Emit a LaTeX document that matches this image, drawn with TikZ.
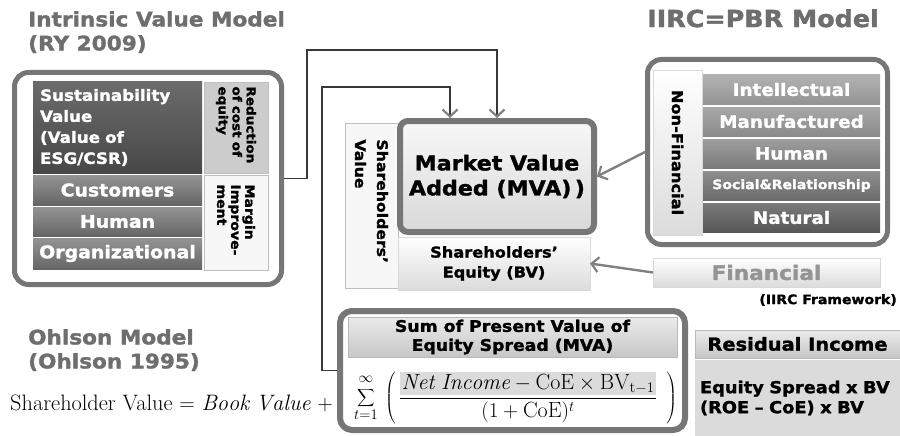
\documentclass[tikz,border=0pt]{standalone}
\usepackage{fontspec}
\usetikzlibrary{positioning,arrows.meta}

\newfontfamily\heavy{DejaVu Sans Bold}[FakeStretch=1.08, FakeBold=1.5]
\newcommand\hvf[2]{\heavy\fontsize{#1}{#2}\selectfont}

\definecolor{frame}{RGB}{118,118,118}
\definecolor{titlegray}{RGB}{110,110,110}

\tikzset{
  barb/.tip={Straight Barb[length=7pt,width=15pt,line width=2.2pt,color=black!50]},
  heading/.style={text=titlegray, font=\hvf{20}{24}, inner sep=0pt, align=left},
  panel/.style={draw=frame, line width=5pt, rounded corners=14pt, fill=white, inner sep=0pt},
  cell/.style={inner sep=0pt, outer sep=0pt, align=center},
  darkbox/.style={cell, top color=black!58, bottom color=black!72, text=white},
  midbox/.style={cell, top color=black!42, bottom color=black!60, text=white},
  lightbox/.style={cell, fill=black!20, draw=black!25},
  whitebox/.style={cell, fill=black!3, draw=black!25},
  capbox/.style 2 args={cell, minimum width=177pt, minimum height=29pt,
    top color=black!#1, bottom color=black!#2, text=white, font=\hvf{17}{20}},
  shadebox/.style={cell, top color=white, bottom color=black!14, draw=black!15},
  headbox/.style={cell, top color=black!8, bottom color=black!22, draw=black!28},
  link/.style={draw=black!78, line width=1.6pt, -barb},
  feed/.style={draw=black!50, line width=2.4pt, -barb},
}

\begin{document}
\begin{tikzpicture}[x=1pt, y=-1pt]
\path[use as bounding box, fill=white] (0,0) rectangle (900,436);

% titles
\node[heading, anchor=north west] (ivmtitle) at (28,11) {Intrinsic Value Model\\(RY 2009)};
\node[heading, anchor=north east, font=\hvf{23.5}{27}] (pbrtitle) at (879,9) {IIRC=PBR Model};
\node[heading, anchor=north west] (ohltitle) at (28,329) {Ohlson Model\\(Ohlson 1995)};

% intrinsic value model
\node[panel, minimum width=267pt, minimum height=212pt] (ivm) at (148,178.5) {};
\node[darkbox, minimum width=169pt, minimum height=91pt, text width=155pt, align=left,
  anchor=north west, font=\hvf{15.5}{21}] (sv) at (33,82) {Sustainability\\Value\\(Value of\\ESG/CSR)};
\node[midbox, minimum width=169pt, minimum height=30pt, below=2pt of sv, font=\hvf{17.5}{20}] (cust) {Customers};
\node[midbox, minimum width=169pt, minimum height=29pt, below=2pt of cust, font=\hvf{17.5}{20}] (hum) {Human};
\node[midbox, minimum width=169pt, minimum height=31pt, below=2pt of hum, font=\hvf{17.5}{20}] (org) {Organizational};
\node[lightbox, rotate=-90, minimum width=91pt, minimum height=64pt, text width=82pt, align=left,
  font=\hvf{12.5}{14}] (red) at (236,127.5) {Reduction\\of cost of\\equity};
\node[whitebox, rotate=-90, minimum width=95pt, minimum height=64pt, text width=76pt, align=left,
  font=\hvf{13}{14}] (marg) at (236,222.5) {Margin\\Improve-\\ment};

% shareholders value
\node[whitebox, rotate=-90, minimum width=165pt, minimum height=53pt, text width=132pt, align=left,
  font=\hvf{14.5}{22}] (sharv) at (371.5,205.5) {Shareholders’\\Value};
\node[cell, draw=frame, line width=6pt, rounded corners=8pt, outer sep=3pt, top color=black!3,
  bottom color=black!15, minimum width=194pt, minimum height=111pt, font=\hvf{20.5}{25}] (mva)
  at (497,176.5) {Market Value\\Added (MVA)\,)};
\node[shadebox, minimum width=192pt, minimum height=53pt, font=\hvf{15}{20}] (eq)
  at (494,263.5) {Shareholders’\\Equity (BV)};

% iirc model
\node[panel, minimum width=240pt, minimum height=185pt] (nfp) at (767.5,152) {};
\node[shadebox, rotate=-90, minimum width=165pt, minimum height=49pt, font=\hvf{15}{18}] (nf)
  at (677.5,152.5) {Non-Financial};
\node[capbox={30}{42}, anchor=north west] (intel) at (703,75) {Intellectual};
\node[capbox={34}{46}, below=3pt of intel] (manuf) {Manufactured};
\node[capbox={38}{52}, below=3pt of manuf] (humr) {Human};
\node[capbox={44}{58}, below=3pt of humr, font=\hvf{13}{16}] (soc) {Social\&Relationship};
\node[capbox={52}{66}, below=3pt of soc] (nat) {Natural};
\node[shadebox, minimum width=227pt, minimum height=29pt, text=black!42, font=\hvf{20}{24}] (fin)
  at (766.5,272.5) {Financial};
\node[anchor=east, inner sep=0pt, font=\hvf{13}{16}] (iirc) at (897,300) {(IIRC Framework)};

% ohlson model
\node[anchor=base west, inner sep=0pt, font=\fontsize{18}{22}\selectfont, scale=1.24, transform shape] (ohlform)
  at (10,410) {Shareholder Value $=$ $\mathit{Book\ Value}$ $+$};
\node[panel, line width=6pt, rounded corners=12pt, minimum width=345pt, minimum height=119pt] (sumbox)
  at (512.5,370.5) {};
\node[headbox, minimum width=329pt, minimum height=40pt, font=\hvf{16}{19}] (sumhead)
  at (512.5,337) {Sum of Present Value of\\Equity Spread (MVA)};
\node[anchor=west, inner sep=0pt, font=\fontsize{18}{22}\selectfont, scale=1.22, transform shape] (mvaform) at (354,398)
  {\setlength{\fboxsep}{1pt}$\displaystyle\sum_{t=1}^{\raisebox{3pt}{$\scriptstyle\infty$}}\,\left(\,\frac{\colorbox{black!14}{$\mathit{Net\ Income}-\mathrm{CoE}\times\mathrm{BV}_{\mathrm{t}-1}$}}{(1+\mathrm{CoE})^{t}}\;\,\right)$};
\node[headbox, minimum width=205pt, minimum height=28pt, font=\hvf{18}{21}] (rihead)
  at (797.5,344) {Residual Income};
\node[cell, fill=black!14, minimum width=205pt, minimum height=76pt, text width=195pt, align=left,
  font=\hvf{16.5}{20}] (ribody) at (797.5,398) {Equity Spread x BV\\(ROE – CoE) x BV};

% connectors
\draw[link] (ivm.east) -- ++(23,0) |- (mva.north |- 0,50) -- (mva.north);
\draw[link] (sumbox.west) -- ++(-15,0) |- (450,87) -- ([xshift=-47pt]mva.north);
\draw[feed] (nfp.west) -- (mva.east);
\draw[feed] (fin.west) -- (eq.east);
\end{tikzpicture}
\end{document}
